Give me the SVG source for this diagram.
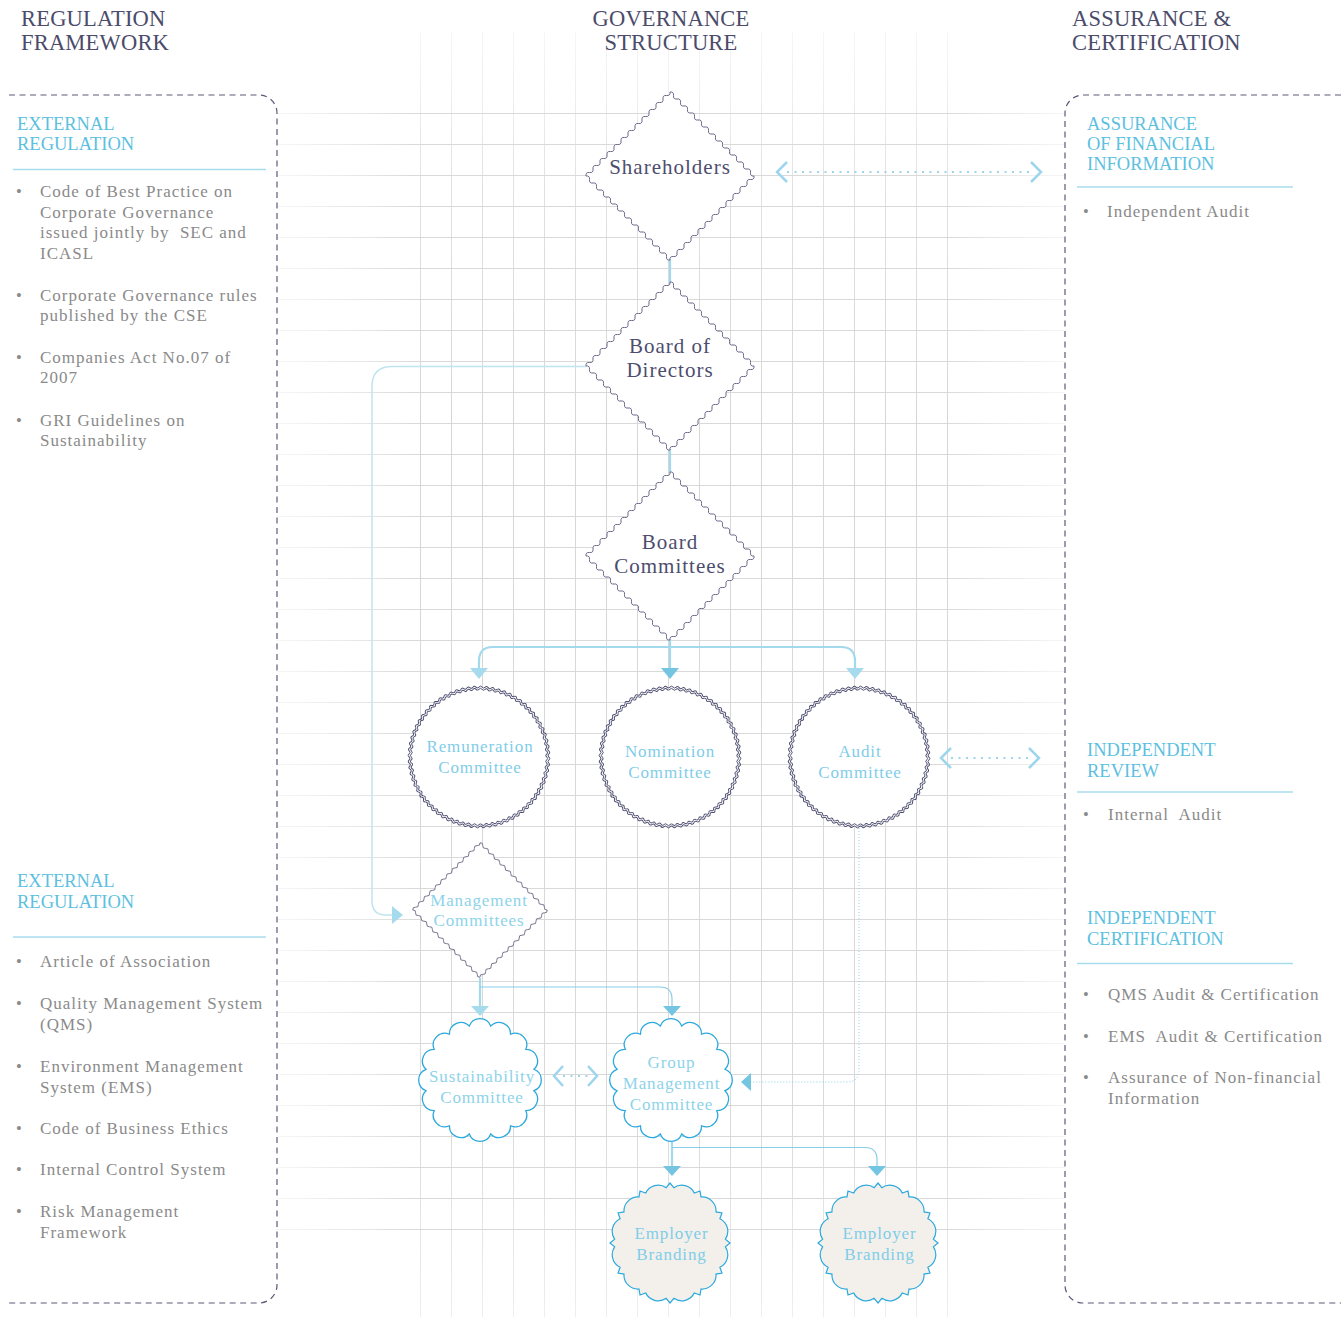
<svg xmlns="http://www.w3.org/2000/svg" width="1341" height="1317" viewBox="0 0 1341 1317">
<style>
text{font-family:'Liberation Serif','Times New Roman',serif}
.hdr{font-size:22.5px;fill:#4b4b6b;letter-spacing:0.2px}
.hdrc{font-size:22.5px;fill:#4b4b6b;letter-spacing:0.2px;text-anchor:middle}
.sub{font-size:18.5px;fill:#5cc0e0}
.li{font-size:17px;fill:#8a8a8a;letter-spacing:1px;white-space:pre}
.bul{font-size:16.5px;fill:#8a8a8a}
.sep{stroke:#a9dcec;stroke-width:1.5;fill:none}
.panel{fill:none;stroke:#5a5a78;stroke-width:1.2;stroke-dasharray:6 4.5}
.dk{font-size:21px;fill:#4d4d6e;letter-spacing:1px;text-anchor:middle}
.cy{font-size:17px;fill:#7fcde8;letter-spacing:0.9px;text-anchor:middle}
.dia{fill:#fff;stroke:#68688a;stroke-width:1}
.wave{fill:none;stroke:#4d4d70;stroke-width:1}
.cloud{fill:#fff;stroke:#2ea9dd;stroke-width:1.3}
.badge{fill:#f3f0eb;stroke:#2ea9dd;stroke-width:1.2}
.ln{fill:none;stroke:#a3d9ed;stroke-width:2.2}
.lnl{fill:none;stroke:#bfe3f0;stroke-width:1.5}
.thin{fill:none;stroke:#86cde6;stroke-width:1.2}
.dot{fill:none;stroke:#9dd6ec;stroke-width:2.2;stroke-dasharray:2 5.5}
.dotf{fill:none;stroke:#8fd0ea;stroke-width:1;stroke-dasharray:1 2}
.chev{fill:none;stroke:#9dd6ec;stroke-width:2.5}
.ah{fill:#a6dbee}
.ah2{fill:#74c5e2}
</style>
<defs>
<linearGradient id="gh" gradientUnits="userSpaceOnUse" x1="277" y1="0" x2="1065" y2="0">
<stop offset="0" stop-color="#e4e4e4" stop-opacity="0.35"/>
<stop offset="0.18" stop-color="#d9d9d9" stop-opacity="1"/>
<stop offset="0.85" stop-color="#d9d9d9" stop-opacity="1"/>
<stop offset="1" stop-color="#e6e6e6" stop-opacity="0.4"/>
</linearGradient>
<linearGradient id="gv" gradientUnits="userSpaceOnUse" x1="0" y1="32" x2="0" y2="1317">
<stop offset="0" stop-color="#dcdcdc" stop-opacity="0.25"/>
<stop offset="0.12" stop-color="#d9d9d9" stop-opacity="0.8"/>
<stop offset="0.3" stop-color="#d6d6d6" stop-opacity="1"/>
<stop offset="0.85" stop-color="#d9d9d9" stop-opacity="1"/>
<stop offset="1" stop-color="#e2e2e2" stop-opacity="0.6"/>
</linearGradient>
<path id="wd" d="M-84,0q-0.5-4 3.5-3.5t3.5-3.5 3.5-3.5 3.5-3.5 3.5-3.5 3.5-3.5 3.5-3.5 3.5-3.5 3.5-3.5 3.5-3.5 3.5-3.5 3.5-3.5 3.5-3.5 3.5-3.5 3.5-3.5 3.5-3.5 3.5-3.5 3.5-3.5 3.5-3.5 3.5-3.5 3.5-3.5 3.5-3.5 3.5-3.5 3.5-3.5q4-0.5 3.5 3.5t3.5 3.5 3.5 3.5 3.5 3.5 3.5 3.5 3.5 3.5 3.5 3.5 3.5 3.5 3.5 3.5 3.5 3.5 3.5 3.5 3.5 3.5 3.5 3.5 3.5 3.5 3.5 3.5 3.5 3.5 3.5 3.5 3.5 3.5 3.5 3.5 3.5 3.5 3.5 3.5 3.5 3.5 3.5 3.5 3.5 3.5q0.5 4-3.5 3.5t-3.5 3.5-3.5 3.5-3.5 3.5-3.5 3.5-3.5 3.5-3.5 3.5-3.5 3.5-3.5 3.5-3.5 3.5-3.5 3.5-3.5 3.5-3.5 3.5-3.5 3.5-3.5 3.5-3.5 3.5-3.5 3.5-3.5 3.5-3.5 3.5-3.5 3.5-3.5 3.5-3.5 3.5-3.5 3.5-3.5 3.5q-4 0.5-3.5-3.5t-3.5-3.5-3.5-3.5-3.5-3.5-3.5-3.5-3.5-3.5-3.5-3.5-3.5-3.5-3.5-3.5-3.5-3.5-3.5-3.5-3.5-3.5-3.5-3.5-3.5-3.5-3.5-3.5-3.5-3.5-3.5-3.5-3.5-3.5-3.5-3.5-3.5-3.5-3.5-3.5-3.5-3.5-3.5-3.5-3.5-3.5z"/>
<path id="w1" d="M70,0Q71.78,1.566 69.933,3.053Q68.05,4.46 69.734,6.101"/>
<g id="w2"><use href="#w1"/><use href="#w1" transform="rotate(5)"/></g>
<g id="w4"><use href="#w2"/><use href="#w2" transform="rotate(10)"/></g>
<g id="w8"><use href="#w4"/><use href="#w4" transform="rotate(20)"/></g>
<g id="w16"><use href="#w8"/><use href="#w8" transform="rotate(40)"/></g>
<g id="w32"><use href="#w16"/><use href="#w16" transform="rotate(80)"/></g>
<g id="w64"><use href="#w32"/><use href="#w32" transform="rotate(160)"/></g>
<g id="ring"><use href="#w64"/><use href="#w8" transform="rotate(320)"/></g>
<g id="dring"><use href="#ring"/><use href="#ring" transform="scale(0.968)"/></g>
<path id="cloud" d="M55,0A11.5,11.5 0 0 1 50.81,21.05A11.5,11.5 0 0 1 38.89,38.89A11.5,11.5 0 0 1 21.05,50.81A11.5,11.5 0 0 1 0,55A11.5,11.5 0 0 1 -21.05,50.81A11.5,11.5 0 0 1 -38.89,38.89A11.5,11.5 0 0 1 -50.81,21.05A11.5,11.5 0 0 1 -55,0A11.5,11.5 0 0 1 -50.81,-21.05A11.5,11.5 0 0 1 -38.89,-38.89A11.5,11.5 0 0 1 -21.05,-50.81A11.5,11.5 0 0 1 0,-55A11.5,11.5 0 0 1 21.05,-50.81A11.5,11.5 0 0 1 38.89,-38.89A11.5,11.5 0 0 1 50.81,-21.05A11.5,11.5 0 0 1 55,0Z"/>
<path id="badge" d="M60,0L55.36,3.87A14,14 0 0 1 49.88,24.33L51.96,30L46.01,31.04A14,14 0 0 1 31.04,46.01L30,51.96L24.33,49.88A14,14 0 0 1 3.87,55.36L0,60L-3.87,55.36A14,14 0 0 1 -24.33,49.88L-30,51.96L-31.04,46.01A14,14 0 0 1 -46.01,31.04L-51.96,30L-49.88,24.33A14,14 0 0 1 -55.36,3.87L-60,0L-55.36,-3.87A14,14 0 0 1 -49.88,-24.33L-51.96,-30L-46.01,-31.04A14,14 0 0 1 -31.04,-46.01L-30,-51.96L-24.33,-49.88A14,14 0 0 1 -3.87,-55.36L0,-60L3.87,-55.36A14,14 0 0 1 24.33,-49.88L30,-51.96L31.04,-46.01A14,14 0 0 1 46.01,-31.04L51.96,-30L49.88,-24.33A14,14 0 0 1 55.36,-3.87Z"/>
</defs>
<rect width="1341" height="1317" fill="#fff"/>
<g id="grid">
<path fill="none" stroke="url(#gh)" stroke-width="1" d="M277,113.5H1065M277,144.5H1065M277,175.5H1065M277,206.5H1065M277,237.5H1065M277,268.5H1065M277,299.5H1065M277,330.5H1065M277,361.5H1065M277,392.5H1065M277,423.5H1065M277,454.5H1065M277,485.5H1065M277,516.5H1065M277,547.5H1065M277,578.5H1065M277,609.5H1065M277,640.5H1065M277,671.5H1065M277,702.5H1065M277,733.5H1065M277,764.5H1065M277,795.5H1065M277,826.5H1065M277,857.5H1065M277,888.5H1065M277,919.5H1065M277,950.5H1065M277,981.5H1065M277,1012.5H1065M277,1043.5H1065M277,1074.5H1065M277,1105.5H1065M277,1136.5H1065M277,1167.5H1065M277,1198.5H1065M277,1229.5H1065"/>
<path fill="none" stroke="url(#gv)" stroke-width="1" d="M420.5,32V1317M451.5,32V1317M482.5,32V1317M513.5,32V1317M544.5,32V1317M575.5,32V1317M606.5,32V1317M637.5,32V1317M668.5,32V1317M699.5,32V1317M730.5,32V1317M761.5,32V1317M792.5,32V1317M823.5,32V1317M854.5,32V1317M885.5,32V1317M916.5,32V1317M947.5,32V1317"/>
</g>
<g id="headers">
<text class="hdr" x="21" y="25.5">REGULATION</text>
<text class="hdr" x="21" y="49.5">FRAMEWORK</text>
<text class="hdrc" x="671" y="25.5">GOVERNANCE</text>
<text class="hdrc" x="671" y="49.5">STRUCTURE</text>
<text class="hdr" x="1072" y="25.5">ASSURANCE &amp;</text>
<text class="hdr" x="1072" y="49.5">CERTIFICATION</text>
</g>
<g id="panel-left">
<path class="panel" d="M9,95H259A18,18 0 0 1 277,113V1285A18,18 0 0 1 259,1303H9"/>
<text class="sub" x="17" y="129.5">EXTERNAL</text>
<text class="sub" x="17" y="149.5">REGULATION</text>
<path class="sep" d="M13,169.5H266"/>
<text class="bul" x="16" y="197">•</text>
<text class="li" x="40" y="197">Code of Best Practice on</text>
<text class="li" x="40" y="217.5">Corporate Governance</text>
<text class="li" x="40" y="238" xml:space="preserve">issued jointly by  SEC and</text>
<text class="li" x="40" y="258.5">ICASL</text>
<text class="bul" x="16" y="301">•</text>
<text class="li" x="40" y="301">Corporate Governance rules</text>
<text class="li" x="40" y="321">published by the CSE</text>
<text class="bul" x="16" y="363">•</text>
<text class="li" x="40" y="363">Companies Act No.07 of</text>
<text class="li" x="40" y="383">2007</text>
<text class="bul" x="16" y="426">•</text>
<text class="li" x="40" y="426">GRI Guidelines on</text>
<text class="li" x="40" y="446">Sustainability</text>
<text class="sub" x="17" y="887">EXTERNAL</text>
<text class="sub" x="17" y="908">REGULATION</text>
<path class="sep" d="M13,937H266"/>
<text class="bul" x="16" y="967">•</text>
<text class="li" x="40" y="967">Article of Association</text>
<text class="bul" x="16" y="1009">•</text>
<text class="li" x="40" y="1009">Quality Management System</text>
<text class="li" x="40" y="1030">(QMS)</text>
<text class="bul" x="16" y="1072">•</text>
<text class="li" x="40" y="1072">Environment Management</text>
<text class="li" x="40" y="1092.5">System (EMS)</text>
<text class="bul" x="16" y="1134">•</text>
<text class="li" x="40" y="1134">Code of Business Ethics</text>
<text class="bul" x="16" y="1175">•</text>
<text class="li" x="40" y="1175">Internal Control System</text>
<text class="bul" x="16" y="1217">•</text>
<text class="li" x="40" y="1217">Risk Management</text>
<text class="li" x="40" y="1238">Framework</text>
</g>
<g id="panel-right">
<path class="panel" d="M1341,95H1083A18,18 0 0 0 1065,113V1285A18,18 0 0 0 1083,1303H1341"/>
<text class="sub" x="1087" y="129.5">ASSURANCE</text>
<text class="sub" x="1087" y="149.5">OF FINANCIAL</text>
<text class="sub" x="1087" y="169.5">INFORMATION</text>
<path class="sep" d="M1077,187H1293"/>
<text class="bul" x="1083" y="217">•</text>
<text class="li" x="1107" y="217">Independent Audit</text>
<text class="sub" x="1087" y="756">INDEPENDENT</text>
<text class="sub" x="1087" y="777">REVIEW</text>
<path class="sep" d="M1077,792H1293"/>
<text class="bul" x="1083" y="820">•</text>
<text class="li" x="1108" y="820" xml:space="preserve">Internal  Audit</text>
<text class="sub" x="1087" y="924">INDEPENDENT</text>
<text class="sub" x="1087" y="945">CERTIFICATION</text>
<path class="sep" d="M1077,963.5H1293"/>
<text class="bul" x="1083" y="1000">•</text>
<text class="li" x="1108" y="1000">QMS Audit &amp; Certification</text>
<text class="bul" x="1083" y="1042">•</text>
<text class="li" x="1108" y="1042" xml:space="preserve">EMS  Audit &amp; Certification</text>
<text class="bul" x="1083" y="1083">•</text>
<text class="li" x="1108" y="1083">Assurance of Non-financial</text>
<text class="li" x="1108" y="1103.5">Information</text>
</g>
<g id="connectors">
<path class="ln" d="M670,259V284M670,449V473M670,639V668"/>
<path class="ln" d="M479,668V661Q479,647 493,647H841Q855,647 855,661V668"/>
<polygon class="ah" points="470,668 488,668 479,679"/>
<polygon class="ah2" points="661,668 679,668 670,679"/>
<polygon class="ah" points="846,668 864,668 855,679"/>
<path class="lnl" d="M586,366.5H392Q372,366.5 372,386.5V901Q372,915 386,915H393"/>
<polygon class="ah" points="392,906 392,924 403,915"/>
<path class="ln" d="M480,978V1006"/>
<path class="thin" d="M480,987H660Q672,987 672,999V1006"/>
<polygon class="ah" points="471,1006 489,1006 480,1016"/>
<polygon class="ah2" points="663,1006 681,1006 672,1016"/>
<path class="dotf" d="M859,828V1070Q859,1082 847,1082H751"/>
<polygon class="ah2" points="751,1073 751,1091 741,1082"/>
<path class="ln" d="M672,1142V1166"/>
<path class="thin" d="M672,1147.5H865Q877,1147.5 877,1159.5V1166"/>
<polygon class="ah2" points="663,1166 681,1166 672,1176"/>
<polygon class="ah2" points="868,1166 886,1166 877,1176"/>
<path class="dot" d="M787,172H1031"/>
<path class="chev" d="M787,162L777,172L787,182M1031,162L1041,172L1031,182"/>
<path class="dot" d="M951,758H1029"/>
<path class="chev" d="M951,748L941,758L951,768M1029,748L1039,758L1029,768"/>
<path class="dot" d="M563,1076H589"/>
<path class="chev" d="M563,1066L554,1076L563,1086M588,1066L597,1076L588,1086"/>
</g>
<g id="node-shareholders">
<use href="#wd" class="dia" transform="translate(670,176)"/>
<text class="dk" x="670" y="173.5">Shareholders</text>
</g>
<g id="node-board-of-directors">
<use href="#wd" class="dia" transform="translate(670,366)"/>
<text class="dk" x="670" y="352.5">Board of</text>
<text class="dk" x="670" y="376.5">Directors</text>
</g>
<g id="node-board-committees">
<use href="#wd" class="dia" transform="translate(670,556)"/>
<text class="dk" x="670" y="548.5">Board</text>
<text class="dk" x="670" y="572.5">Committees</text>
</g>
<g id="node-remuneration">
<circle cx="479" cy="757" r="69" fill="#fff"/>
<use href="#dring" class="wave" transform="translate(479,757)"/>
<text class="cy" x="480" y="752">Remuneration</text>
<text class="cy" x="480" y="773">Committee</text>
</g>
<g id="node-nomination">
<circle cx="670" cy="757" r="69" fill="#fff"/>
<use href="#dring" class="wave" transform="translate(670,757)"/>
<text class="cy" x="670" y="757">Nomination</text>
<text class="cy" x="670" y="778">Committee</text>
</g>
<g id="node-audit">
<circle cx="859" cy="757" r="69" fill="#fff"/>
<use href="#dring" class="wave" transform="translate(859,757)"/>
<text class="cy" x="860" y="757">Audit</text>
<text class="cy" x="860" y="778">Committee</text>
</g>
<g id="node-management">
<use href="#wd" class="dia" style="stroke:#77758f;stroke-width:1.25" transform="translate(480,910) scale(0.8)"/>
<text class="cy" style="fill:#8dd3ea" x="479" y="906">Management</text>
<text class="cy" style="fill:#8dd3ea" x="479" y="926">Committees</text>
</g>
<g id="node-sustainability">
<use href="#cloud" class="cloud" transform="translate(480,1080) rotate(11.25)"/>
<text class="cy" style="fill:#8dd3ea" x="482" y="1082">Sustainability</text>
<text class="cy" style="fill:#8dd3ea" x="482" y="1103">Committee</text>
</g>
<g id="node-group-management">
<use href="#cloud" class="cloud" transform="translate(671,1080) rotate(11.25)"/>
<text class="cy" style="fill:#8dd3ea" x="671.5" y="1068">Group</text>
<text class="cy" style="fill:#8dd3ea" x="671.5" y="1089">Management</text>
<text class="cy" style="fill:#8dd3ea" x="671.5" y="1109.5">Committee</text>
</g>
<g id="node-employer-branding-1">
<use href="#badge" class="badge" transform="translate(670,1243)"/>
<text class="cy" x="671.5" y="1239">Employer</text>
<text class="cy" x="671.5" y="1259.5">Branding</text>
</g>
<g id="node-employer-branding-2">
<use href="#badge" class="badge" transform="translate(878,1243)"/>
<text class="cy" x="879.5" y="1239">Employer</text>
<text class="cy" x="879.5" y="1259.5">Branding</text>
</g>
</svg>
